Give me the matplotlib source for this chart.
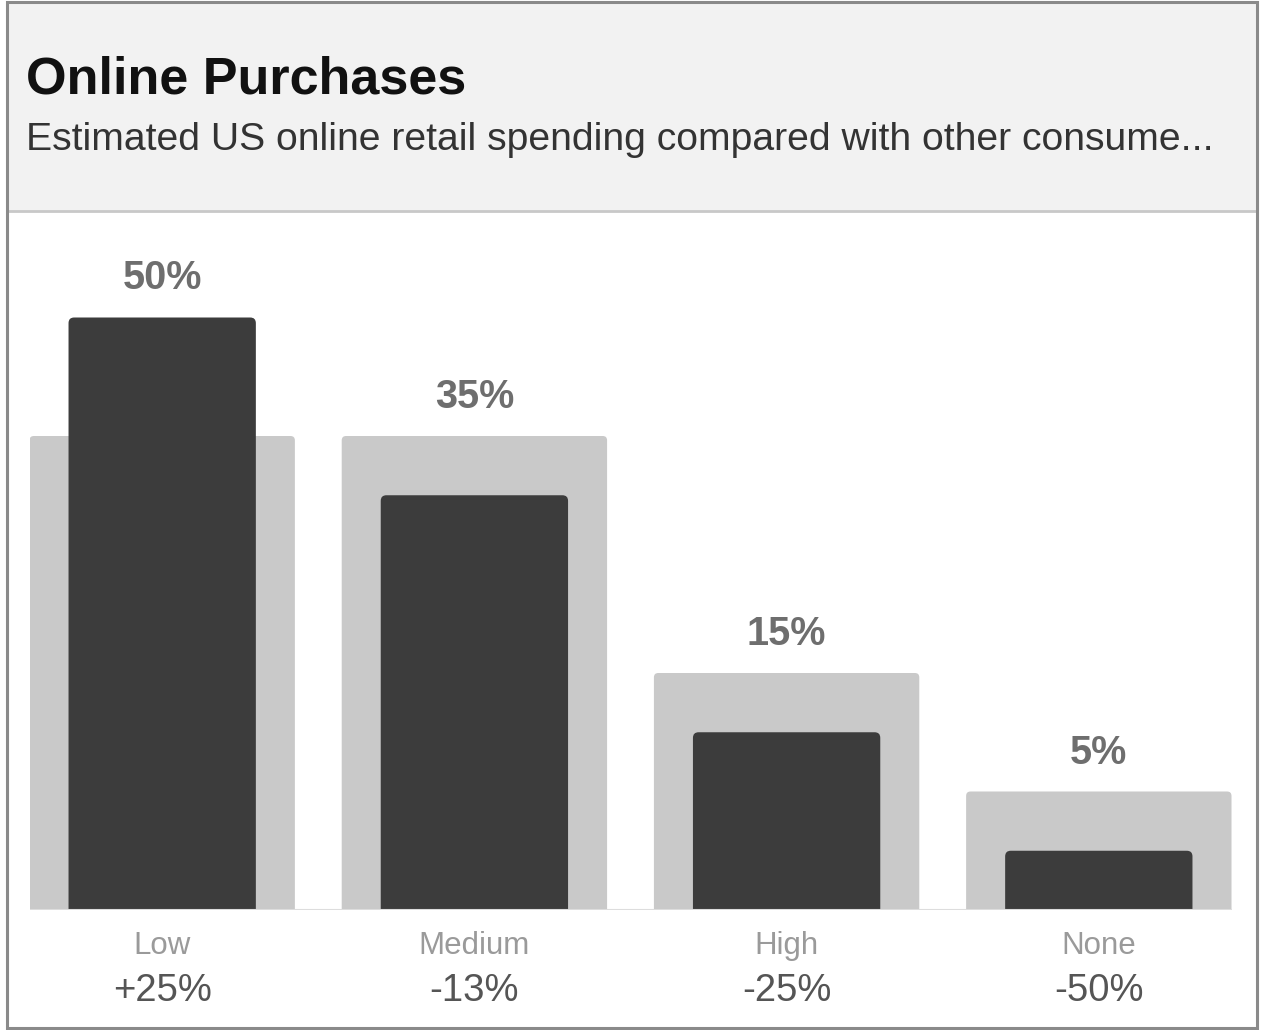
import matplotlib.pyplot as plt
from matplotlib.patches import FancyBboxPatch, Rectangle

categories = ["Low", "Medium", "High", "None"]
changes = ["+25%", "-13%", "-25%", "-50%"]
share = [50, 35, 15, 5]          # dark bars
background = [40, 40, 20, 10]    # light bars behind

W, H = 1266, 1030
fig = plt.figure(figsize=(W / 100, H / 100), dpi=100)
fig.patch.set_facecolor("white")

# header band + outer frame
fig.patches.append(Rectangle((7 / W, 1 - 211 / H), 1250 / W, 209 / H,
                             transform=fig.transFigure, facecolor="#f2f2f2",
                             edgecolor="none", zorder=0))
fig.lines.append(plt.Line2D([7 / W, 1257 / W], [1 - 211 / H, 1 - 211 / H],
                            transform=fig.transFigure, color="#c8c8c8", lw=2))
fig.patches.append(Rectangle((7 / W, 2 / H), 1250 / W, 1 - 4 / H,
                             transform=fig.transFigure, facecolor="none",
                             edgecolor="#8a8a8a", lw=2.2, zorder=5))

fig.text(26 / W, 1 - 93 / H, "Online Purchases", fontsize=37.5, fontweight="bold",
         family="Liberation Sans", color="#111111", va="baseline")
fig.text(26 / W, 1 - 150 / H,
         "Estimated US online retail spending compared with other consume...",
         fontsize=28.2, family="Liberation Sans", color="#333333", va="baseline")

# plot area: baseline at y=910px, ~11.85 px per percent, 312 px per category
ax = fig.add_axes([29.5 / W, 120 / H, 1202 / W, 680 / H])
ax.set_xlim(-0.425, 3.425)
ax.set_ylim(0, 680 / 11.85)
ax.axis("off")

asp = (1 / 11.85) / (1 / 312)
for i in range(len(categories)):
    bw = 0.85
    ax.add_patch(FancyBboxPatch((i - bw / 2, -2), bw, background[i] + 2,
                                boxstyle="round,pad=0,rounding_size=0.014",
                                mutation_aspect=asp, facecolor="#c9c9c9",
                                edgecolor="none", zorder=1))
    dw = 0.6
    ax.add_patch(FancyBboxPatch((i - dw / 2, -2), dw, share[i] + 2,
                                boxstyle="round,pad=0,rounding_size=0.018",
                                mutation_aspect=asp, facecolor="#3c3c3c",
                                edgecolor="none", zorder=2))
    top = max(share[i], background[i])
    ax.annotate(f"{share[i]}%", (i, top), xytext=(0, 39), textcoords="offset pixels",
                ha="center", va="center", fontsize=28.5, fontweight="bold",
                family="Liberation Sans", color="#6e6e6e", annotation_clip=False)
    ax.annotate(categories[i], (i, 0), xytext=(0, -36), textcoords="offset pixels",
                ha="center", va="center", fontsize=22.5, family="Liberation Sans",
                color="#9a9a9a", annotation_clip=False)
    ax.annotate(changes[i], (i, 0), xytext=(0, -81), textcoords="offset pixels",
                ha="center", va="center", fontsize=27.5, family="Liberation Sans",
                color="#555555", annotation_clip=False)

ax.axhline(0, color="#dddddd", lw=1.5, zorder=3)

fig.savefig("out.png", dpi=100)
